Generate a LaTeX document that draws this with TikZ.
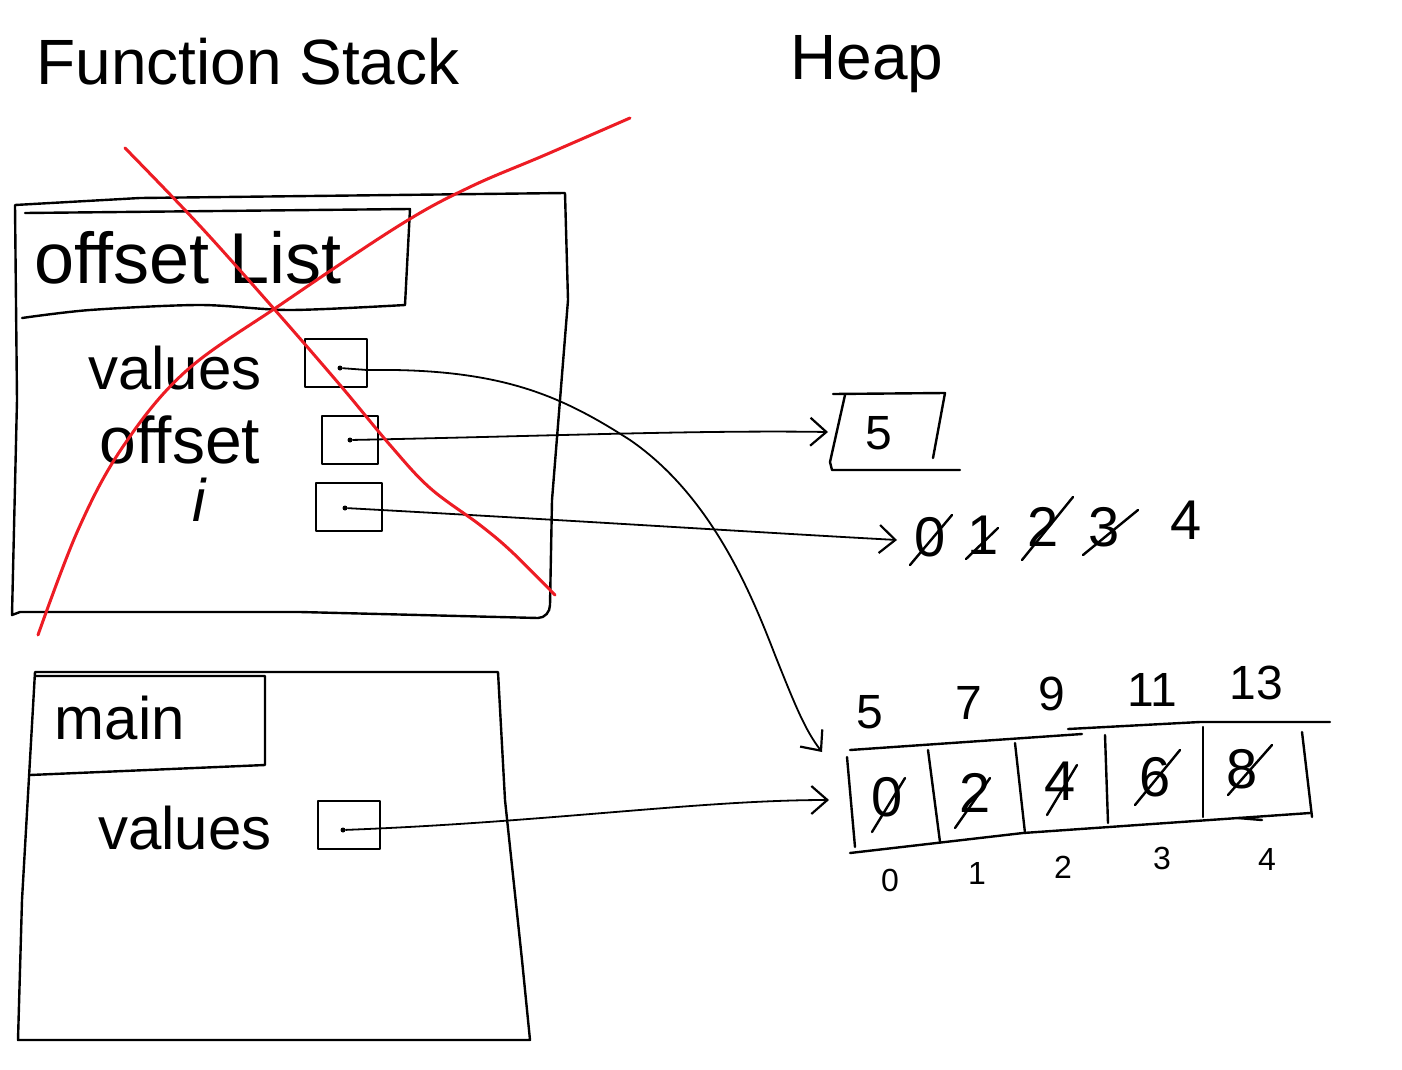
\documentclass[tikz,border=0pt]{standalone}
\usepackage{fontspec}
\setmainfont{Liberation Sans}
\usetikzlibrary{arrows.meta}
\definecolor{penred}{RGB}{237,28,36}
\tikzset{
  ink/.style={line width=1.2pt, black, line cap=round, line join=round},
  redink/.style={line width=1.5pt, penred, line cap=round, line join=round},
  slot/.style={ink, draw, minimum width=#1, minimum height=24pt, inner sep=0pt},
  dot/.style={circle, fill=black, inner sep=0pt, minimum size=2.5pt},
  ptr/.style={line width=0.9pt, black, line cap=round, -{Straight Barb[length=8pt,width=14pt,line width=1.1pt]}},
  big/.style={font=\fontsize{32}{36}\selectfont},
  lbl/.style={font=\fontsize{30}{34}\selectfont},
  dig/.style={font=\fontsize{28}{32}\selectfont, inner sep=1pt},
  sdig/.style={font=\fontsize{24}{28}\selectfont, inner sep=1pt},
  tdig/.style={font=\fontsize{16}{18}\selectfont, inner sep=1pt},
  strike/.style={ink}
}
\begin{document}
\begin{tikzpicture}[x=0.5pt,y=-0.5pt]
\useasboundingbox[fill=white] (0,0) rectangle (1402,1070);

% headings
\node[big] (fs) at (248,62) {Function Stack};
\node[big] (heap) at (867,64) {Heap};

% ---------- offsetList frame ----------
\draw[ink] (15,205) -- (140,198) -- (565,193) -- (568,300) -- (552,500) -- (550,605)
  to[out=-90,in=0] (538,618) -- (300,612) -- (20,612) -- (12,615) -- (17,400) -- (15,205);
\draw[ink] (25,213) -- (410,209) -- (405,305);
\draw[ink] plot[smooth] coordinates {(22,318) (90,310) (200,305) (290,310) (405,305)};
\node[font=\fontsize{36}{40}\selectfont] (olist) at (188,258) {offset List};

\node[lbl] (lv1) at (175,368) {values};
\node[slot=31pt] (bv1) at (336,363) {};
\node[dot] (dv1) at (340,368) {};

\node[font=\fontsize{33}{36}\selectfont] (lo) at (180,440) {offset};
\node[slot=28pt] (bo) at (350,440) {};
\node[dot] (do) at (350,440) {};

\node[lbl] (li) at (200,500) {\textit{i}};
\node[slot=33pt] (bi) at (349,507) {};
\node[dot] (di) at (345,508) {};

% ---------- main frame ----------
\draw[ink] (35,672) -- (498,672) -- (505,800) -- (522,960) -- (530,1040) -- (18,1040) -- (22,900) -- (35,672);
\draw[ink] (35,676) -- (265,676) -- (265,765) -- (30,775);
\node[lbl] (lmain) at (120,718) {main};

\node[lbl] (lv2) at (185,828) {values};
\node[slot=31pt] (bv2) at (349,825) {};
\node[dot] (dv2) at (343,830) {};

% ---------- heap: offset value ----------
\draw[ink] (833,394) -- (945,393) -- (933,458);
\draw[ink] (845,395) -- (830,462) -- (832,470) -- (960,470);
\node[sdig] (five) at (879,433) {5};
\coordinate (t5) at (828,432);

% ---------- heap: i values ----------
\node[dig] (i0) at (930,537) {0};
\node[dig] (i1) at (983,535) {1};
\node[dig] (i2) at (1043,527) {2};
\node[dig] (i3) at (1104,527) {3};
\node[dig] (i4) at (1186,520) {4};
\coordinate (ti) at (897,540);
\draw[strike] (910,565) -- (952,515);
\draw[strike] (966,559) -- (998,528);
\draw[strike] (1022,560) -- (1073,497);
\draw[strike] (1083,555) -- (1138,510);

% ---------- heap: array ----------
\draw[ink] (850,750) -- (1082,734);
\draw[ink] (1068,729) -- (1200,722) -- (1330,722);
\draw[ink] (850,853) -- (1023,833) -- (1310,813);
\draw[ink] (1238,818) -- (1262,820);
\draw[ink] (847,757) -- (855,847);
\draw[ink] (928,750) -- (940,842);
\draw[ink] (1015,743) -- (1025,833);
\draw[ink] (1105,735) -- (1108,823);
\draw[ink] (1203,727) -- (1203,817);
\draw[ink] (1302,732) -- (1312,817);

\node[dig] (a0) at (887,797) {0};
\node[dig] (a1) at (975,793) {2};
\node[dig] (a2) at (1060,781) {4};
\node[dig] (a3) at (1155,777) {6};
\node[dig] (a4) at (1242,769) {8};
\draw[strike] (872,832) -- (905,778);
\draw[strike] (955,828) -- (990,778);
\draw[strike] (1047,815) -- (1077,765);
\draw[strike] (1135,805) -- (1180,750);
\draw[strike] (1228,795) -- (1272,745);

\node[sdig] (u0) at (870,712) {5};
\node[sdig] (u1) at (969,703) {7};
\node[sdig] (u2) at (1052,694) {9};
\node[sdig] (u3) at (1152,690) {11};
\node[sdig] (u4) at (1256,683) {13};

\node[tdig] (n0) at (890,880) {0};
\node[tdig] (n1) at (977,873) {1};
\node[tdig] (n2) at (1063,867) {2};
\node[tdig] (n3) at (1162,858) {3};
\node[tdig] (n4) at (1267,859) {4};

\coordinate (tarr) at (829,800);
\coordinate (tcur) at (822,752);

% ---------- pointers ----------
\draw[ptr] (dv1) -- (367,370) .. controls (500,368) and (560,395) .. (630,440)
  .. controls (710,495) and (750,590) .. (775,655) .. controls (795,705) and (805,730) .. (tcur);
\draw[ptr] (do) .. controls (550,436) and (700,430) .. (t5);
\draw[ptr] (di) .. controls (600,522) and (750,532) .. (ti);
\draw[ptr] (dv2) .. controls (550,822) and (700,800) .. (tarr);

% ---------- red cross ----------
\draw[redink] plot[smooth, tension=0.6] coordinates {(125,148) (200,226) (275,310) (340,385) (390,445) (430,488) (480,525) (512,552) (555,595)};
\draw[redink] plot[smooth, tension=0.6] coordinates {(630,118) (545,155) (470,187) (400,225) (280,305) (185,372) (122,448) (78,530) (38,635)};
\end{tikzpicture}
\end{document}
